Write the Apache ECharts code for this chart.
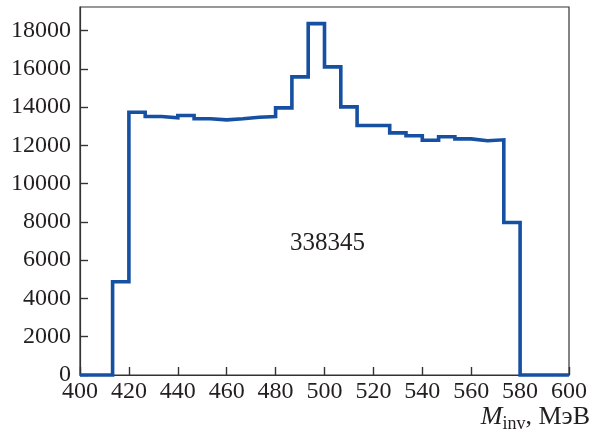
<!DOCTYPE html>
<html>
<head>
<meta charset="utf-8">
<script src="https://cdn.jsdelivr.net/npm/echarts@6/dist/echarts.min.js"></script>
<style>
  html, body { margin: 0; padding: 0; background: #fff; }
  #chart { width: 590px; height: 441px; }
</style>
</head>
<body>
<div id="chart"></div>
<script>
// Invariant-mass histogram: 30 bins of 20/3 MeV from 400 to 600 MeV
const binStart = 400;
const binWidth = 20 / 3;
const counts = [
  0, 0, 4870, 13730, 13510, 13440, 13560, 13390, 13330, 13390,
  13470, 13510, 13960, 15580, 18360, 16100, 14010, 13040, 13040, 12650,
  12500, 12270, 12450, 12340, 12240, 12290, 7970, 0, 0, 0
];
const totalEvents = '338345';
const xTicks = { min: 400, max: 600, step: 20 };
const yTicks = { min: 0, max: 19230, step: 2000 };

// Step-line points: left edge of every bin, plus the closing right edge
const points = counts.map((c, i) => [binStart + i * binWidth, c]);
points.push([binStart + counts.length * binWidth, counts[counts.length - 1]]);

const serif = '"Liberation Serif", "DejaVu Serif", serif';
const ink = '#231f20';
const frame = '#333333';

const chart = echarts.init(document.getElementById('chart'), null, { renderer: 'canvas' });
chart.setOption({
  animation: false,
  backgroundColor: '#fff',
  grid: {
    left: 80, right: 19, top: 7, bottom: 66,
    show: true, borderColor: frame, borderWidth: 1.2, backgroundColor: 'transparent'
  },
  xAxis: {
    type: 'value',
    min: xTicks.min, max: xTicks.max, interval: xTicks.step,
    axisLine: { show: true, lineStyle: { color: frame, width: 1.2 } },
    axisTick: { show: true, inside: true, length: 8, lineStyle: { color: frame, width: 1.4 } },
    splitLine: { show: false },
    axisLabel: { color: ink, fontFamily: serif, fontSize: 24, margin: 5, formatter: v => String(v) }
  },
  yAxis: {
    type: 'value',
    min: yTicks.min, max: yTicks.max, interval: yTicks.step,
    axisLine: { show: true, lineStyle: { color: frame, width: 1.2 } },
    axisTick: { show: true, inside: true, length: 8, lineStyle: { color: frame, width: 1.4 } },
    splitLine: { show: false },
    axisLabel: { color: ink, fontFamily: serif, fontSize: 24, margin: 9, showMaxLabel: false, formatter: v => String(v) }
  },
  series: [{
    type: 'line',
    step: 'end',
    data: points,
    symbol: 'none',
    clip: false,
    lineStyle: { color: '#1650a2', width: 3.6, join: 'miter' },
    z: 3
  }],
  graphic: [
    {
      type: 'text', left: 290, top: 231,
      style: { text: totalEvents, fontFamily: serif, fontSize: 25, fill: ink }
    },
    {
      type: 'text', right: 0, top: 404,
      style: {
        text: '{m|M}{s|inv}{n|, МэВ}',
        fill: ink,
        rich: {
          m: { fontFamily: serif, fontStyle: 'italic', fontSize: 26, fill: ink, lineHeight: 28, verticalAlign: 'bottom' },
          s: { fontFamily: serif, fontSize: 18, fill: ink, lineHeight: 22, verticalAlign: 'bottom', padding: [0, 0, -3, 0] },
          n: { fontFamily: serif, fontSize: 26, fill: ink, lineHeight: 28, verticalAlign: 'bottom' }
        }
      }
    }
  ]
});
</script>
</body>
</html>
